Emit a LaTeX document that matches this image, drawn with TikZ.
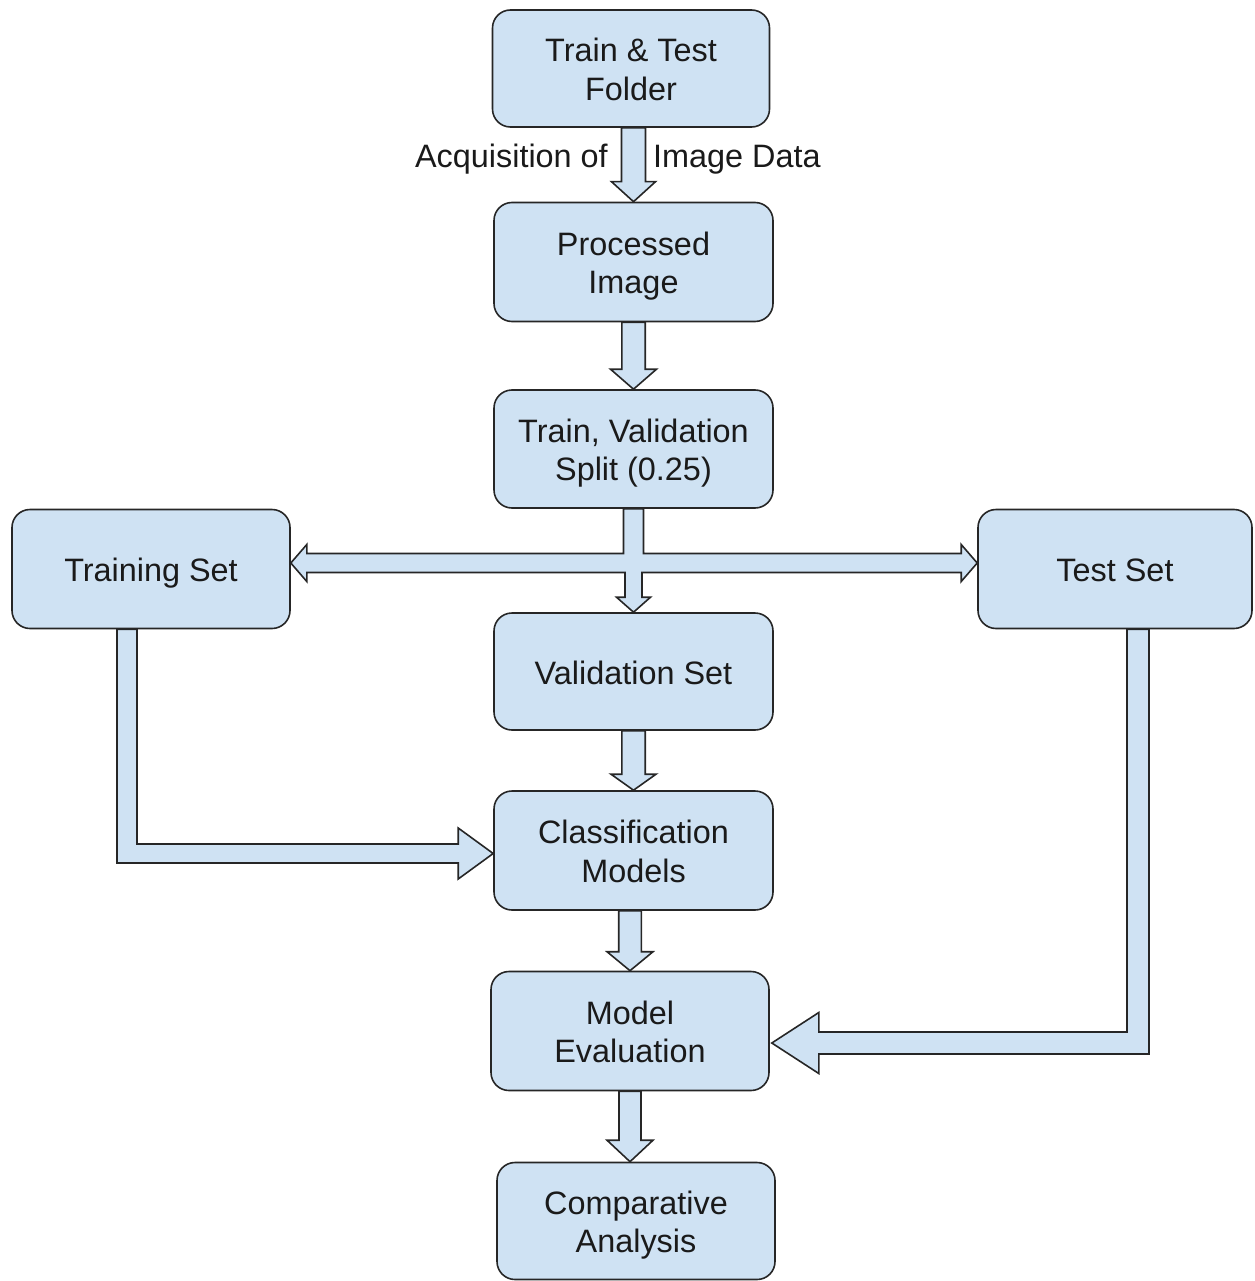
\documentclass[tikz,border=0pt]{standalone}
\usepackage{fontspec}
\setmainfont{Liberation Sans}
\usetikzlibrary{calc}

\definecolor{boxfill}{HTML}{CFE2F3}
\definecolor{edge}{HTML}{262626}
\definecolor{ink}{HTML}{1A1A1A}

% fixed extents of the first and last line, so labels sit centred on their capitals
\newcommand{\lstop}{\rule{0pt}{32pt}}
\newcommand{\lsbot}{\rule[-7pt]{0pt}{7pt}}

\tikzset{
  stagebox/.style={rectangle, rounded corners=18pt, draw=edge, fill=boxfill,
    line width=1.6pt, align=center, text=ink, inner sep=4pt,
    font=\fontsize{32.4}{38.3}\selectfont},
  blockarrow/.style={draw=edge, fill=boxfill, line width=1.6pt, line join=miter},
  arrowlabel/.style={text=ink, inner sep=0pt, font=\fontsize{32.4}{38.3}\selectfont}
}

% vertical block arrow: #1 source anchor, #2 target anchor (tip),
% #3 node giving the arrow's x, #4 shaft half width, #5 head half width, #6 head length
\newcommand{\vblock}[6]{%
  \draw[blockarrow] let \p1=(#1), \p2=(#2), \p3=(#3) in
    ({\x3-#4pt},\y1) -- ({\x3-#4pt},{\y2+#6pt}) -- ({\x3-#5pt},{\y2+#6pt})
    -- (\x3,\y2) -- ({\x3+#5pt},{\y2+#6pt}) -- ({\x3+#4pt},{\y2+#6pt})
    -- ({\x3+#4pt},\y1) -- cycle;
}

\begin{document}
\begin{tikzpicture}[x=1pt,y=-1pt]
\useasboundingbox (0,0) rectangle (1254,1281);

% stages
\node[stagebox, minimum width=277pt, minimum height=117pt] (tt)    at (631,68.5)    {\lstop Train \& Test\\Folder\lsbot};
\node[stagebox, minimum width=279pt, minimum height=119pt] (proc)  at (633.5,262)   {\lstop Processed\\Image\lsbot};
\node[stagebox, minimum width=279pt, minimum height=118pt] (split) at (633.5,449)   {\lstop Train, Validation\\Split (0.25)\lsbot};
\node[stagebox, minimum width=278pt, minimum height=119pt] (train) at (151,569)     {\lstop Training Set\lsbot};
\node[stagebox, minimum width=274pt, minimum height=119pt] (test)  at (1115,569)    {\lstop Test Set\lsbot};
\node[stagebox, minimum width=279pt, minimum height=117pt] (val)   at (633.5,671.5) {\lstop Validation Set\lsbot};
\node[stagebox, minimum width=279pt, minimum height=119pt] (cls)   at (633.5,850.5) {\lstop Classification\\Models\lsbot};
\node[stagebox, minimum width=278pt, minimum height=119pt] (eval)  at (630,1031)    {\lstop Model\\Evaluation\lsbot};
\node[stagebox, minimum width=278pt, minimum height=117pt] (comp)  at (636,1221)    {\lstop Comparative\\Analysis\lsbot};

% straight block arrows
\vblock{tt.south}{proc.north}{proc.north}{12}{22}{20}
\vblock{proc.south}{split.north}{split.north}{11.7}{23}{20}
\vblock{val.south}{cls.north}{cls.north}{11.7}{22.5}{16}
\vblock{cls.south}{eval.north}{eval.north}{11.3}{23}{19}
\vblock{eval.south}{comp.north}{eval.south}{11}{23}{21.5}

% label of the first arrow
\node[arrowlabel, anchor=base east] (acq) at ($(tt.south)+(-23,40)$) {Acquisition of};
\node[arrowlabel, anchor=base west] (img) at ($(tt.south)+(22,40)$) {Image Data};

% split into training, validation and test sets
\draw[blockarrow] let \p1=(split.south), \p2=(val.north), \p3=(train.east),
    \p4=(test.west), \p5=($(train.east)+(0,-6)$) in
  (\x3,\y5) -- ({\x3+16pt},{\y5+18.5pt}) -- ({\x3+16pt},{\y5+9.5pt})
  -- ({\x2-10pt},{\y5+9.5pt}) -- ({\x2-10pt},\y1) -- ({\x2+10pt},\y1)
  -- ({\x2+10pt},{\y5+9.5pt}) -- ({\x4-16pt},{\y5+9.5pt})
  -- ({\x4-16pt},{\y5+18.5pt}) -- (\x4,\y5) -- ({\x4-16pt},{\y5-18.5pt})
  -- ({\x4-16pt},{\y5-9.5pt}) -- ({\x2+8.5pt},{\y5-9.5pt})
  -- ({\x2+8.5pt},{\y2+15pt}) -- ({\x2+17pt},{\y2+15pt}) -- (\x2,\y2)
  -- ({\x2-17pt},{\y2+15pt}) -- ({\x2-8.5pt},{\y2+15pt})
  -- ({\x2-8.5pt},{\y5-9.5pt}) -- ({\x3+16pt},{\y5-9.5pt})
  -- ({\x3+16pt},{\y5-18.5pt}) -- cycle;

% training set into the classification models
\draw[blockarrow] let \p1=($(train.south)+(-24,0)$), \p2=($(cls.west)+(0,3)$) in
  ({\x1-10pt},\y1) -- ({\x1-10pt},{\y2-9.5pt}) -- ({\x2-35pt},{\y2-9.5pt})
  -- ({\x2-35pt},{\y2-25.5pt}) -- (\x2,\y2) -- ({\x2-35pt},{\y2+25.5pt})
  -- ({\x2-35pt},{\y2+9.5pt}) -- ({\x1+10pt},{\y2+9.5pt})
  -- ({\x1+10pt},\y1) -- cycle;

% test set into the model evaluation
\draw[blockarrow] let \p1=($(test.south)+(23,0)$), \p2=($(eval.east)+(2,12)$) in
  ({\x1+11pt},\y1) -- ({\x1+11pt},{\y2-11pt}) -- ({\x2+47pt},{\y2-11pt})
  -- ({\x2+47pt},{\y2-30.5pt}) -- (\x2,\y2) -- ({\x2+47pt},{\y2+30.5pt})
  -- ({\x2+47pt},{\y2+11pt}) -- ({\x1-11pt},{\y2+11pt})
  -- ({\x1-11pt},\y1) -- cycle;
\end{tikzpicture}
\end{document}
